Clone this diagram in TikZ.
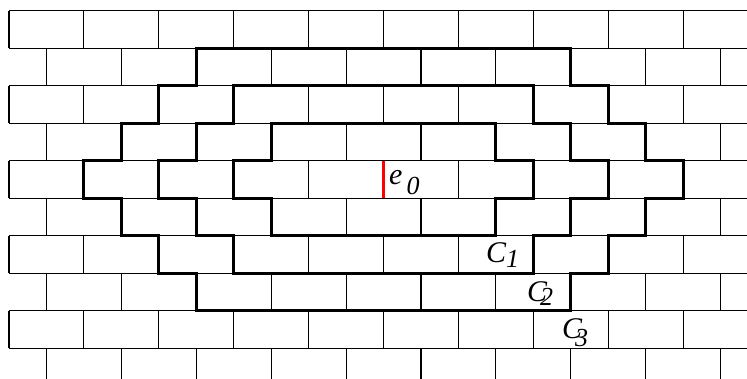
\documentclass[tikz,border=0pt]{standalone}
\usepackage{fontspec}
\setmainfont{Liberation Serif}
\newcommand\sublabel[4]{{\fontsize{30}{30}\selectfont\itshape #1\kern#3pt\raisebox{-#4pt}{\fontsize{26}{26}\selectfont #2}}}
\tikzset{
  mortar/.style={line width=1.1pt, black},
  contour/.style={line width=3pt, black, line join=miter},
  edgemark/.style={line width=3pt, red},
  lbl/.style={inner sep=0pt, anchor=base west}
}
\begin{document}
\begin{tikzpicture}[x=1pt,y=-1pt]
\useasboundingbox (0,0) rectangle (747,379);
\begin{scope}[shift={(9,10.7)}, x=37.45pt, y=-37.5pt]
  % horizontal mortar lines
  \foreach \k in {0,...,9} {\draw[mortar] (0,\k) -- (19.706,\k);}
  % vertical joints
  \foreach \k in {0,2,4,6,8} {
    \foreach \i in {0,2,...,18} {\draw[mortar] (\i,\k) -- (\i,\k+1);}
  }
  \foreach \k in {1,3,5,7} {
    \foreach \i in {1,3,...,19} {\draw[mortar] (\i,\k) -- (\i,\k+1);}
  }
  \foreach \i in {1,3,...,19} {\draw[mortar] (\i,9) -- (\i,9.821);}
  % contours
  \draw[contour] (7,3) -- (13,3) -- (13,4) -- (14,4) -- (14,5) -- (13,5) -- (13,6)
    -- (7,6) -- (7,5) -- (6,5) -- (6,4) -- (7,4) -- cycle;
  \draw[contour] (6,2) -- (14,2) -- (14,3) -- (15,3) -- (15,4) -- (16,4) -- (16,5)
    -- (15,5) -- (15,6) -- (14,6) -- (14,7) -- (6,7) -- (6,6) -- (5,6) -- (5,5)
    -- (4,5) -- (4,4) -- (5,4) -- (5,3) -- (6,3) -- cycle;
  \draw[contour] (5,1) -- (15,1) -- (15,2) -- (16,2) -- (16,3) -- (17,3) -- (17,4)
    -- (18,4) -- (18,5) -- (17,5) -- (17,6) -- (16,6) -- (16,7) -- (15,7) -- (15,8)
    -- (5,8) -- (5,7) -- (4,7) -- (4,6) -- (3,6) -- (3,5) -- (2,5) -- (2,4) -- (3,4)
    -- (3,3) -- (4,3) -- (4,2) -- (5,2) -- cycle;
  % red edge e0
  \coordinate (etop) at (10,4);
  \coordinate (ebot) at (10,5);
  \draw[edgemark] (etop) -- (ebot);
\end{scope}
\node[lbl] (e0lbl) at (389,185) {\sublabel{e}{0}{4}{10}};
\node[lbl] (c1lbl) at (486,263) {\sublabel{C}{1}{0}{5}};
\node[lbl] (c2lbl) at (527,302) {\sublabel{C}{2}{-7}{4}};
\node[lbl] (c3lbl) at (562,338) {\sublabel{C}{3}{-7}{8}};
\end{tikzpicture}
\end{document}
